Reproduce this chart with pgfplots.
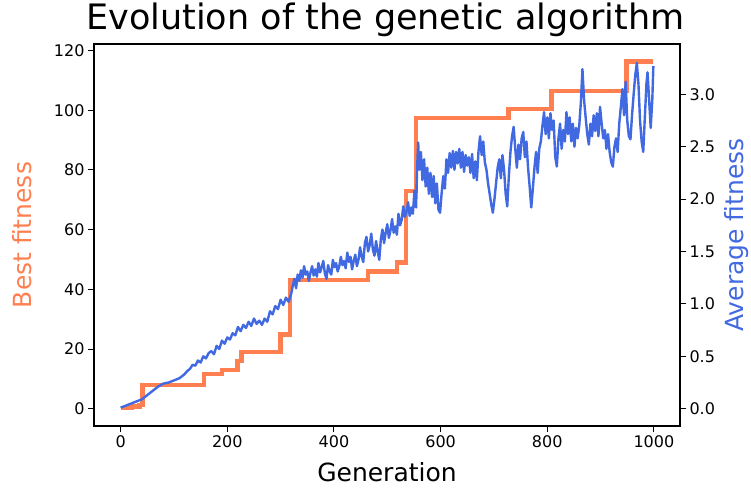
\documentclass[border=0pt]{standalone}
\usepackage{pgfplots}
\pgfplotsset{compat=1.18}
\usepackage{fontspec}
\setmainfont{DejaVu Sans}
\definecolor{bestc}{HTML}{FF7F50}
\definecolor{avgc}{HTML}{4169E1}
\begin{document}
\begin{tikzpicture}
\begin{axis}[
  name=ax, scale only axis, width=586pt, height=382pt,
  xmin=-49.95, xmax=1048.95, ymin=-5.8, ymax=122.2,
  xtick={0,200,400,600,800,1000}, ytick={0,20,40,60,80,100,120},
  xtick pos=bottom, ytick pos=left, tick align=outside,
  major tick length=6pt, axis line style={line width=1.1pt},
  every tick/.style={black, line width=1pt},
  /pgf/number format/assume math mode=true,
  /pgf/number format/1000 sep={},
  tick label style={font=\fontsize{16}{19}\selectfont},
  title={Evolution of the genetic algorithm},
  title style={font=\fontsize{35}{40}\selectfont, at={(axis description cs:0.497,1)}, anchor=base, yshift=8pt},
  xlabel={Generation},
  xlabel style={font=\fontsize{25}{30}\selectfont, at={(axis description cs:0.5,-0.1204)}, anchor=center},
  ylabel={Best fitness},
  ylabel style={font=\fontsize{25}{30}\selectfont, text=bestc, at={(axis description cs:-0.122,0.5)}, anchor=center},
]
\addplot[const plot, color=bestc, line width=4.5pt] coordinates {
(0,0.3) (20,0.7) (35,1.2) (41,8.0) (156,11.7) (190,13.0) (219,16.0) (227,19.0)
(300,24.8) (318,43.2) (464,46.0) (518,49.0) (535,72.9) (554,97.4) (727,100.4)
(808,106.4) (949,116.4) (999,116.4)
};
\end{axis}
\begin{axis}[
  scale only axis, width=586pt, height=382pt,
  xmin=-49.95, xmax=1048.95, ymin=-0.165, ymax=3.48,
  axis x line=none, axis y line*=right,
  ytick={0,0.5,1,1.5,2,2.5,3}, tick align=outside,
  major tick length=6pt, axis line style={line width=1.1pt},
  every tick/.style={black, line width=1pt},
  /pgf/number format/assume math mode=true,
  yticklabel style={font=\fontsize{16}{19}\selectfont, /pgf/number format/.cd, fixed, fixed zerofill, precision=1},
  ylabel={Average fitness},
  ylabel style={font=\fontsize{25}{30}\selectfont, text=avgc, at={(axis description cs:1.0973,0.5)}, anchor=center},
]
\addplot[color=avgc, line width=2.4pt, line join=round] coordinates {
(0,0.01) (10,0.03) (20,0.05) (30,0.07) (40,0.09) (50,0.13) (60,0.17) (70,0.21)
(80,0.24) (90,0.25) (100,0.27) (110,0.29) (120,0.33) (125,0.36) (130,0.38) (135,0.42)
(140,0.41) (145,0.46) (150,0.44) (155,0.50) (160,0.48) (165,0.53) (170,0.55) (175,0.52)
(180,0.60) (185,0.57) (190,0.65) (195,0.62) (200,0.68) (205,0.66) (210,0.72) (215,0.70)
(220,0.78) (225,0.74) (230,0.80) (235,0.77) (240,0.83) (245,0.79) (250,0.86) (255,0.81)
(260,0.84) (265,0.80) (270,0.86) (275,0.83) (280,0.93) (285,0.90) (290,0.98) (295,0.95)
(300,1.04) (305,0.99) (310,1.06) (315,1.02)
(320,1.10) (323,1.18) (326,1.24) (329,1.15) (332,1.28) (335,1.22) (338,1.32) (341,1.25)
(344,1.36) (347,1.28) (350,1.31) (353,1.22) (356,1.30) (359,1.36) (362,1.27) (365,1.33)
(368,1.26) (371,1.39) (374,1.30) (377,1.35) (380,1.41) (383,1.29) (386,1.24) (389,1.37)
(392,1.31) (395,1.28) (398,1.42) (401,1.35) (404,1.39) (407,1.31) (410,1.36) (413,1.45)
(416,1.37) (419,1.41) (422,1.34) (425,1.49) (428,1.40) (431,1.45) (434,1.33) (437,1.41)
(440,1.47) (443,1.36) (446,1.42) (449,1.54) (452,1.45) (455,1.40) (458,1.58) (461,1.64)
(464,1.50) (467,1.56) (470,1.67) (473,1.52) (476,1.46) (479,1.60) (482,1.50) (485,1.42)
(488,1.62) (491,1.71) (494,1.58) (497,1.68) (500,1.76) (503,1.63) (506,1.70) (509,1.81)
(512,1.68) (515,1.74) (518,1.66) (521,1.86) (524,1.75) (527,1.80) (530,1.93) (533,1.83)
(536,1.88) (539,1.97) (542,1.84) (545,1.92) (548,1.86) (551,2.08) (554,1.92) (556,2.30)
(558,2.54) (560,2.28) (563,2.45) (566,2.18) (569,2.38) (572,2.12) (575,2.30) (578,2.05)
(581,2.25) (584,2.02) (587,2.22) (590,1.96) (593,2.15) (596,1.90) (599,1.87) (602,2.06)
(605,2.22) (608,2.10) (611,2.38) (614,2.25) (617,2.44) (620,2.30) (623,2.46) (626,2.28)
(629,2.45) (632,2.34) (635,2.48) (638,2.30) (641,2.45) (644,2.26) (647,2.42) (650,2.32)
(653,2.40) (656,2.25) (659,2.43) (662,2.20) (665,2.36) (668,2.18) (671,2.45) (674,2.60)
(677,2.42) (680,2.55) (683,2.35) (686,2.28) (689,2.15) (692,2.05) (695,1.95) (698,1.87)
(701,2.00) (704,2.15) (707,2.30) (710,2.38) (713,2.20) (716,2.42) (719,2.28) (722,2.05)
(725,1.93) (728,2.22) (731,2.45) (734,2.60) (737,2.69) (740,2.48) (743,2.30) (746,2.52)
(749,2.38) (752,2.58) (755,2.64) (758,2.40) (761,2.55) (764,2.30) (767,2.12) (770,1.92)
(773,2.10) (776,2.30) (779,2.45) (782,2.25) (785,2.48) (788,2.55) (791,2.70) (794,2.83)
(797,2.62) (800,2.78) (803,2.58) (806,2.82) (809,2.66) (812,2.75) (815,2.40) (818,2.31)
(821,2.58) (824,2.72) (827,2.48) (830,2.66) (833,2.55) (836,2.83) (839,2.62) (842,2.78)
(845,2.55) (848,2.72) (851,2.50) (854,2.68) (857,2.58) (860,2.70) (863,2.92) (866,3.24)
(869,2.95) (872,2.78) (875,2.62) (878,2.52) (881,2.72) (884,2.60) (887,2.80) (890,2.65)
(893,2.82) (896,2.60) (899,2.88) (902,2.72) (905,2.58) (908,2.66) (911,2.48) (914,2.62)
(917,2.45) (920,2.35) (923,2.31) (926,2.50) (929,2.58) (932,2.45) (935,2.72) (938,2.88)
(941,3.05) (944,2.80) (947,3.12) (950,2.75) (953,2.60) (956,2.57) (959,2.80) (962,3.00)
(965,3.18) (968,3.30) (971,3.10) (974,2.75) (977,2.55) (980,2.45) (983,2.78) (986,3.10)
(988,3.21) (991,2.95) (994,2.68) (997,2.95) (999,3.27)
};
\end{axis}
\pgfresetboundingbox
\path[use as bounding box] ([shift={(-94pt,-65pt)}]ax.south west) rectangle ([shift={(71pt,44pt)}]ax.north east);
\end{tikzpicture}
\end{document}
